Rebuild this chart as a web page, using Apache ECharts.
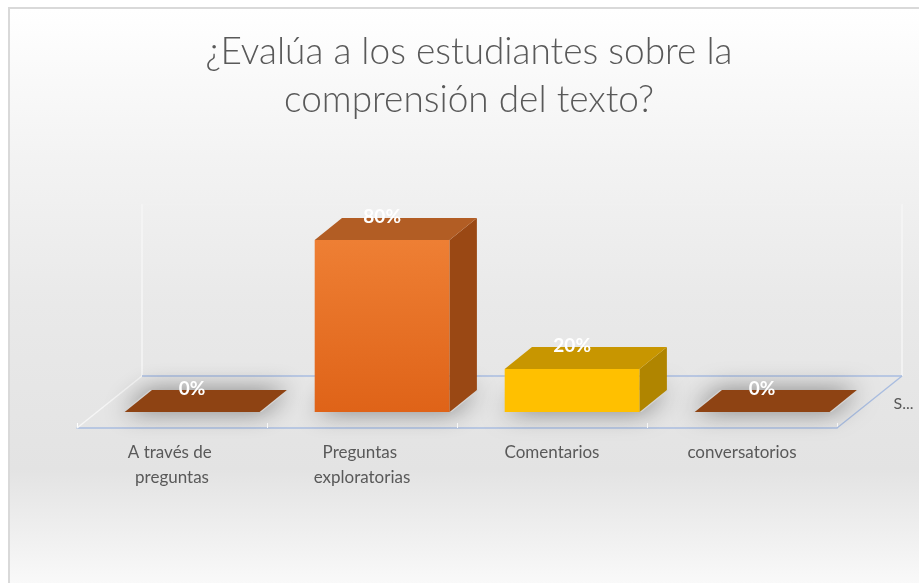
<!DOCTYPE html>
<html>
<head>
<meta charset="utf-8">
<script src="https://cdn.jsdelivr.net/npm/echarts@6/dist/echarts.min.js"></script>
<style>
  html, body {
    margin: 0;
    padding: 0;
    width: 919px;
    height: 583px;
    overflow: hidden;
    background: #ffffff;
  }
  #frame {
    position: absolute;
    left: 8px;
    top: 7px;
    width: 1000px;
    height: 590px;
    border-left: 2px solid #d9d9d9;
    border-top: 2px solid #d9d9d9;
    background: linear-gradient(to bottom, #ffffff 0%, #f3f3f3 25%, #e9e9e9 50%, #e3e3e3 78%, #fcfcfc 100%);
  }
  #main {
    position: absolute;
    left: 10px;
    top: 9px;
    width: 918px;
    height: 574px;
  }
</style>
</head>
<body>
<div id="frame"></div>
<div id="main"></div>
<script>
  const categories = ['A través de preguntas', 'Preguntas exploratorias', 'Comentarios', 'conversatorios']
  const values = [0, 0.8, 0.2, 0]
  const depthLabel = 'S...'
  const titleText = '¿Evalúa a los estudiantes sobre la\ncomprensión del texto?'

  // 3d look: depth of the floor in px, bar sits between FRONT and BACK of it
  const DEPTH = [65, -52]
  const FRONT = 0.31
  const BACK = 0.73
  const BAR_RATIO = 0.71
  const Y_MAX = 0.8

  const faces = [
    { front: '#ed7d31', front2: '#e0641a', side: '#9c4a14', top: '#8e4313' },
    { front: '#ee7f34', front2: '#df6318', side: '#9a4814', top: '#b25d24' },
    { front: '#ffc000', front2: '#ffc000', side: '#b08500', top: '#c89600' },
    { front: '#ed7d31', front2: '#e0641a', side: '#9c4a14', top: '#8e4313' }
  ]

  const chart = echarts.init(document.getElementById('main'))

  function renderFloor(params, api) {
    const band = api.size([1, 0])[0]
    const a = api.coord([0, 0])
    const b = api.coord([categories.length - 1, 0])
    const t = api.coord([0, Y_MAX])
    const left = a[0] - band / 2
    const right = b[0] + band / 2
    const y = a[1]
    const h = y - t[1]
    const bl = [left + DEPTH[0], y + DEPTH[1]]
    const br = [right + DEPTH[0], y + DEPTH[1]]
    const line = (p1, p2, color, w) => ({
      type: 'line',
      shape: { x1: p1[0], y1: p1[1], x2: p2[0], y2: p2[1] },
      style: { stroke: color, lineWidth: w }
    })
    return {
      type: 'group',
      children: [
        line([bl[0], bl[1]], [bl[0], bl[1] - h], '#f6f6f6', 1.5),
        line([br[0], br[1]], [br[0], br[1] - h], '#f6f6f6', 1.5),
        line([bl[0], bl[1] - h], [br[0], br[1] - h], '#f1f1f1', 1),
        line([left, y], bl, '#f6f6f6', 1.5),
        line(bl, br, '#a9bde0', 1.5),
        line([right, y], br, '#a9bde0', 1.5),
        {
          type: 'text',
          style: {
            x: (right + br[0]) / 2 + 24,
            y: (y + br[1]) / 2 + 2,
            text: depthLabel,
            fill: '#595959',
            font: '16px Lato',
            align: 'left',
            verticalAlign: 'middle'
          }
        }
      ]
    }
  }

  function renderBar(params, api) {
    const i = api.value(0)
    const v = api.value(1)
    const base = api.coord([i, 0])
    const top = api.coord([i, v])
    const band = api.size([1, 0])[0]
    const w = band * BAR_RATIO
    const c = faces[i]
    const x0 = base[0] - w / 2 + DEPTH[0] * FRONT
    const x1 = x0 + w
    const yb = base[1] + DEPTH[1] * FRONT
    const yt = top[1] + DEPTH[1] * FRONT
    const d = [DEPTH[0] * (BACK - FRONT), DEPTH[1] * (BACK - FRONT)]
    const children = [
      {
        // soft shadow on the floor
        type: 'polygon',
        shape: { points: [[x0 - 2, yb], [x1 + 2, yb], [x1 + d[0] + 2, yb + d[1]], [x0 + d[0] - 2, yb + d[1]]] },
        style: { fill: '#d4d4d4', shadowBlur: 24, shadowColor: 'rgba(0,0,0,0.45)' }
      }
    ]
    if (yb - yt > 0.5) {
      children.push({
        type: 'rect',
        shape: { x: x0, y: yt, width: w, height: yb - yt },
        style: {
          fill: new echarts.graphic.LinearGradient(0, 0, 0, 1, [
            { offset: 0, color: c.front },
            { offset: 1, color: c.front2 }
          ])
        }
      })
      children.push({
        type: 'polygon',
        shape: { points: [[x1, yt], [x1 + d[0], yt + d[1]], [x1 + d[0], yb + d[1]], [x1, yb]] },
        style: { fill: c.side }
      })
    }
    children.push({
      type: 'polygon',
      shape: { points: [[x0, yt], [x1, yt], [x1 + d[0], yt + d[1]], [x0 + d[0], yt + d[1]]] },
      style: { fill: c.top }
    })
    children.push({
      type: 'text',
      style: {
        x: (x0 + x1) / 2,
        y: yt - 23,
        text: Math.round(v * 100) + '%',
        fill: '#ffffff',
        font: 'bold 19px Lato',
        align: 'center',
        verticalAlign: 'middle'
      }
    })
    return { type: 'group', children: children }
  }

  chart.setOption({
    animation: false,
    title: {
      text: titleText,
      left: 'center',
      top: 19,
      padding: 0,
      textStyle: {
        color: '#595959',
        fontFamily: 'Lato',
        fontWeight: 300,
        fontSize: 37,
        lineHeight: 48
      }
    },
    grid: {
      left: 67,
      right: 91,
      top: 247,
      bottom: 155,
      containLabel: false,
      outerBoundsMode: 'none'
    },
    xAxis: {
      type: 'category',
      data: categories,
      axisLine: { lineStyle: { color: '#a9bde0', width: 1.5 } },
      axisTick: { show: true, inside: true, length: 5, lineStyle: { color: '#ffffff' } },
      axisLabel: {
        interval: 0,
        color: '#595959',
        fontFamily: 'Lato',
        fontSize: 17,
        lineHeight: 25,
        margin: 12,
        width: 140,
        overflow: 'break'
      },
      splitLine: { show: false }
    },
    yAxis: {
      type: 'value',
      min: 0,
      max: Y_MAX,
      show: false
    },
    series: [
      {
        type: 'custom',
        name: 'floor',
        clip: false,
        z: 1,
        data: [[0, 0]],
        renderItem: renderFloor
      },
      {
        type: 'custom',
        name: depthLabel,
        clip: false,
        z: 2,
        data: values.map((v, i) => [i, v]),
        encode: { x: 0, y: 1 },
        renderItem: renderBar
      }
    ]
  })
</script>
</body>
</html>
